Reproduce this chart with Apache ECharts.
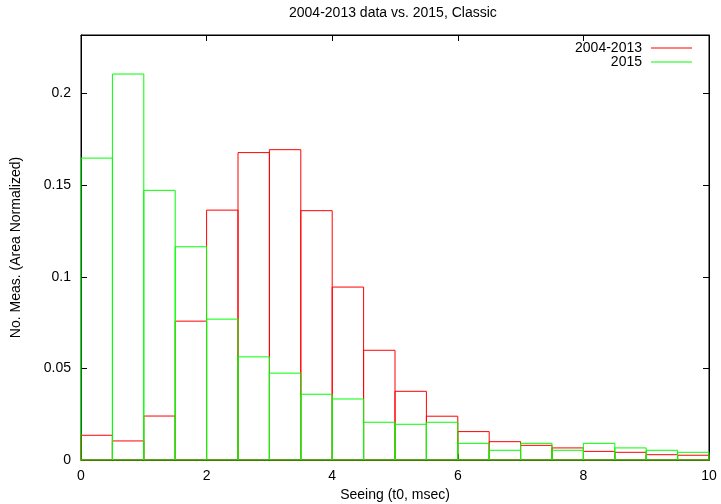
<!DOCTYPE html>
<html>
<head>
<meta charset="utf-8">
<script src="https://cdn.jsdelivr.net/npm/echarts@6/dist/echarts.min.js"></script>
<style>
  html, body { margin: 0; padding: 0; background: #fff; }
  #chart { width: 721px; height: 504px; }
</style>
</head>
<body>
<div id="chart"></div>
<script>
// histogram bins (msec)
var binLow = [0, 0.5, 1, 1.5, 2, 2.5, 3, 3.5, 4, 4.5, 5, 5.5, 6, 6.5, 7, 7.5, 8, 8.5, 9, 9.5]
var binHigh = [0.5, 1, 1.5, 2, 2.5, 3, 3.5, 4, 4.5, 5, 5.5, 6, 6.5, 7, 7.5, 8, 8.5, 9, 9.5, 10]

// area normalized counts
var old = [0.0135, 0.0104, 0.0240, 0.0758, 0.1364, 0.1678, 0.1694, 0.1361, 0.0944, 0.0599,
  0.0375, 0.0239, 0.0155, 0.0100, 0.0080, 0.0066, 0.0047, 0.0042, 0.0029, 0.0026]
var recent = [0.1648, 0.2107, 0.1472, 0.1164, 0.0769, 0.0563, 0.0474, 0.0359, 0.0333, 0.0206,
  0.0195, 0.0206, 0.0091, 0.0053, 0.0091, 0.0053, 0.0091, 0.0066, 0.0053, 0.0042]

var xTicks = { min: 0, max: 10, interval: 2 }
var yTicks = { min: 0, max: 0.232, interval: 0.05 }

var font = 'Liberation Sans, Arial, sans-serif'

function boxes(vals) {
  return vals.map(function (v, i) { return [binLow[i], binHigh[i], v] })
}

function renderBox(params, api) {
  var p0 = api.coord([api.value(0), api.value(2)])
  var p1 = api.coord([api.value(1), 0])
  return {
    type: 'rect',
    shape: { x: p0[0], y: p0[1], width: p1[0] - p0[0], height: p1[1] - p0[1] },
    style: { fill: 'none', stroke: api.visual('color'), lineWidth: 1 }
  }
}

var axisLine = { show: true, onZero: false, lineStyle: { color: '#000', width: 1 } }
var axisTick = { show: true, inside: true, length: 6, lineStyle: { color: '#000' } }
var label = { color: '#000', fontFamily: font, fontSize: 14 }
var legendText = { color: '#000', fontFamily: font, fontSize: 14, padding: [0, 4, 0, 0] }

var chart = echarts.init(document.getElementById('chart'))
chart.setOption({
  animation: false,
  backgroundColor: '#fff',
  title: {
    text: '2004-2013 data vs. 2015, Classic',
    left: 289,
    top: 6,
    padding: 0,
    textStyle: { color: '#000', fontFamily: font, fontSize: 14, fontWeight: 'normal' }
  },
  legend: [
    {
      data: [{ name: '2004-2013', icon: 'rect' }],
      right: 29, top: 41, padding: 0, align: 'right',
      itemWidth: 41, itemHeight: 1,
      selectedMode: false,
      textStyle: legendText
    },
    {
      data: [{ name: '2015', icon: 'rect' }],
      right: 29, top: 55, padding: 0, align: 'right',
      itemWidth: 41, itemHeight: 1,
      selectedMode: false,
      textStyle: legendText
    }
  ],
  grid: {
    left: 81, right: 12, top: 35, bottom: 44,
    containLabel: false, outerBoundsMode: 'none',
    show: true, borderColor: '#000', borderWidth: 1
  },
  xAxis: [
    {
      type: 'value', min: xTicks.min, max: xTicks.max, interval: xTicks.interval,
      name: 'Seeing (t0, msec)', nameLocation: 'middle', nameGap: 28,
      nameTextStyle: label,
      axisLine: axisLine, axisTick: axisTick, splitLine: { show: false },
      axisLabel: Object.assign({ margin: 9 }, label)
    },
    {
      type: 'value', position: 'top', min: xTicks.min, max: xTicks.max, interval: xTicks.interval,
      axisLine: axisLine, axisTick: axisTick, splitLine: { show: false },
      axisLabel: { show: false }
    }
  ],
  yAxis: [
    {
      type: 'value', min: yTicks.min, max: yTicks.max, interval: yTicks.interval,
      name: 'No. Meas. (Area Normalized)', nameLocation: 'middle', nameGap: 58,
      nameTextStyle: label,
      axisLine: axisLine, axisTick: axisTick, splitLine: { show: false },
      axisLabel: Object.assign({ margin: 10, showMaxLabel: false }, label)
    },
    {
      type: 'value', position: 'right', min: yTicks.min, max: yTicks.max, interval: yTicks.interval,
      axisLine: axisLine, axisTick: axisTick, splitLine: { show: false },
      axisLabel: { show: false }
    }
  ],
  series: [
    {
      name: '2004-2013',
      type: 'custom',
      renderItem: renderBox,
      itemStyle: { color: '#ff0000' },
      encode: { x: [0, 1], y: 2 },
      data: boxes(old)
    },
    {
      name: '2015',
      type: 'custom',
      renderItem: renderBox,
      itemStyle: { color: '#00ff00' },
      encode: { x: [0, 1], y: 2 },
      data: boxes(recent)
    },
    {
      // empty series so the mirrored top/right axes get drawn
      type: 'line',
      xAxisIndex: 1,
      yAxisIndex: 1,
      data: []
    }
  ]
})
</script>
</body>
</html>
